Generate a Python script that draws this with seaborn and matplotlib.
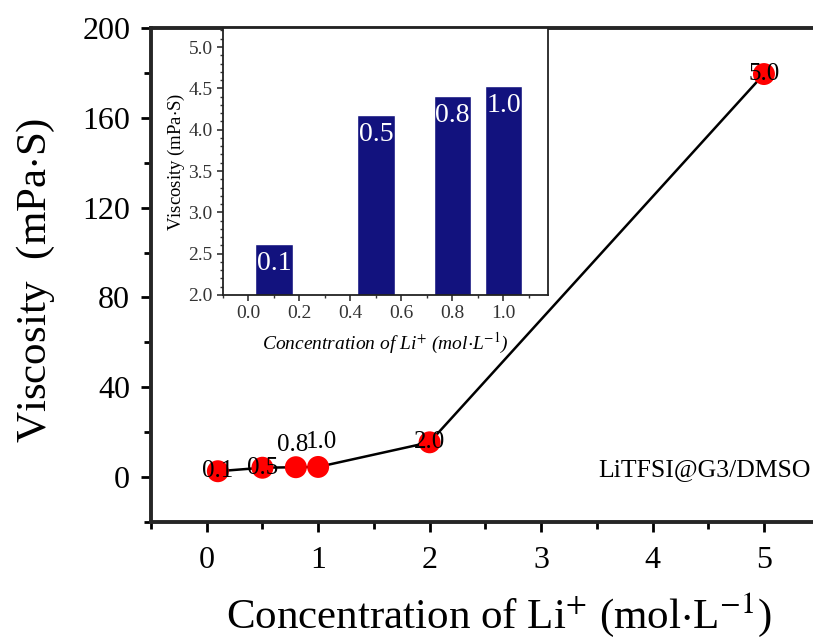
import matplotlib
matplotlib.use("Agg")
import matplotlib.pyplot as plt
import seaborn as sns
import pandas as pd
from matplotlib.ticker import MultipleLocator, FormatStrFormatter

# main data: concentration vs viscosity
conc = [0.1, 0.5, 0.8, 1.0, 2.0, 5.0]
visc = [2.62, 4.18, 4.41, 4.53, 15.5, 179.5]
conc_labels = ["0.1", "0.5", "0.8", "1.0", "2.0", "5.0"]

# inset data (low concentrations)
inset_conc = [0.1, 0.5, 0.8, 1.0]
inset_visc = [2.62, 4.18, 4.41, 4.53]
inset_labels = ["0.1", "0.5", "0.8", "1.0"]

df = pd.DataFrame({"conc": conc, "visc": visc})
df_in = pd.DataFrame({"conc": inset_conc, "visc": inset_visc})

sns.set_style("ticks")
plt.rcParams["font.family"] = ["Liberation Serif", "DejaVu Serif"]
plt.rcParams["mathtext.fontset"] = "stix"
plt.rcParams["text.color"] = "black"
plt.rcParams["axes.labelcolor"] = "black"
plt.rcParams["xtick.color"] = "black"
plt.rcParams["ytick.color"] = "black"

fig = plt.figure(figsize=(8.13, 6.41), dpi=100)
ax = fig.add_axes([0.1857, 0.1856, 0.8143, 0.7707])

sns.lineplot(data=df, x="conc", y="visc", color="black", linewidth=1.8, ax=ax, zorder=2)
sns.scatterplot(data=df, x="conc", y="visc", color="red", s=250, edgecolor="none", ax=ax, zorder=3)

# point labels
for xv, yv, lab in zip(conc, visc, conc_labels):
    if lab == "0.8":
        ax.text(xv - 0.03, yv + 10, lab, ha="center", va="center", fontsize=18, zorder=4)
    elif lab == "1.0":
        ax.text(xv + 0.03, yv + 11, lab, ha="center", va="center", fontsize=18, zorder=4)
    else:
        ax.text(xv, yv, lab, ha="center", va="center", fontsize=18, zorder=4)

ax.text(5.42, 3, "LiTFSI@G3/DMSO", ha="right", va="center", fontsize=18.5)

ax.set_xlim(-0.5, 5.44)
ax.set_ylim(-20, 200)
ax.xaxis.set_major_locator(MultipleLocator(1))
ax.xaxis.set_minor_locator(MultipleLocator(0.5))
ax.yaxis.set_major_locator(MultipleLocator(40))
ax.yaxis.set_minor_locator(MultipleLocator(20))
ax.tick_params(which="major", length=7, width=2, labelsize=23, direction="out", pad=8)
ax.tick_params(which="minor", length=5, width=2, direction="out")
ax.tick_params(axis="x", which="major", pad=10)
for side in ["left", "bottom", "top"]:
    ax.spines[side].set_linewidth(2.8)
ax.spines["right"].set_visible(False)
ax.set_xlabel("Concentration of Li$^{+}$ (mol$\\cdot$L$^{-1}$)", fontsize=31, va="center")
ax.set_ylabel("Viscosity  (mPa$\\cdot$S)", fontsize=31, va="center")
ax.xaxis.set_label_coords(0.525, -0.188)
ax.yaxis.set_label_coords(-0.173, 0.49)

# inset
axin = fig.add_axes([0.2743, 0.5398, 0.3998, 0.4165])
axin.set_facecolor("white")
sns.barplot(data=df_in, x="conc", y="visc", native_scale=True, width=0.73,
            color="#12127E", saturation=1, ax=axin, zorder=2)
for xv, yv, lab in zip(inset_conc, inset_visc, inset_labels):
    axin.text(xv, yv - 0.24, lab, ha="center", va="center", color="white", fontsize=20)

axin.set_xlim(-0.1, 1.175)
axin.set_ylim(2.0, 5.23)
axin.xaxis.set_major_locator(MultipleLocator(0.2))
axin.xaxis.set_minor_locator(MultipleLocator(0.1))
axin.yaxis.set_major_locator(MultipleLocator(0.5))
axin.yaxis.set_minor_locator(MultipleLocator(0.1))
axin.xaxis.set_major_formatter(FormatStrFormatter("%.1f"))
axin.yaxis.set_major_formatter(FormatStrFormatter("%.1f"))
axin.tick_params(which="major", length=4, width=1.2, labelsize=14, direction="out",
                 colors="#333333")
axin.tick_params(which="minor", length=2, width=1, direction="out", colors="#333333")
for side in axin.spines:
    axin.spines[side].set_linewidth(1.3)
    axin.spines[side].set_color("#222222")
axin.set_xlabel("Concentration of Li$^{+}$ (mol$\\cdot$L$^{-1}$)", fontsize=14,
                style="italic", labelpad=6)
axin.set_ylabel("Viscosity (mPa$\\cdot$S)", fontsize=13.5, labelpad=1)

fig.savefig("out.png", dpi=100)
